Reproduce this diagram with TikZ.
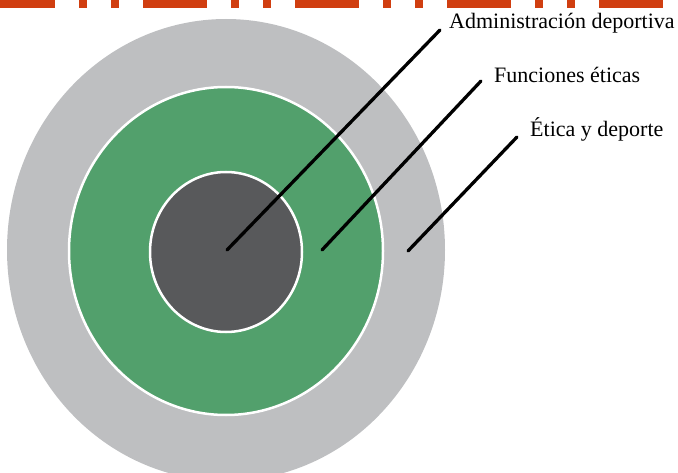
\documentclass[tikz,border=0pt]{standalone}
\usepackage{fontspec}
\setmainfont{Liberation Serif}
\usetikzlibrary{positioning}
\definecolor{ringgray}{RGB}{190,191,193}
\definecolor{ringgreen}{RGB}{82,160,108}
\definecolor{coregray}{RGB}{88,89,91}
\definecolor{bandorange}{RGB}{208,62,16}
\tikzset{%
  % Specifications for style of rings and labels:
        ring/.style = {draw=white, line width=2.5pt},
     pointer/.style = {draw=black, line width=3.3pt, line cap=round},
   labeltext/.style = {anchor=base west, inner sep=0pt, font=\fontsize{22}{24}\selectfont},
}
\begin{document}
\begin{tikzpicture}[x=1pt, y=-1pt]
  \useasboundingbox (0,0) rectangle (678,473);
  \clip (0,0) rectangle (678,473);

  % top band
  \draw[bandorange, line width=8pt,
        dash pattern=on 64pt off 24pt on 8pt off 24pt on 8pt off 24pt,
        dash phase=9pt] (0,4) -- (678,4);

  % rings
  \fill[ringgray] (226,250) ellipse [x radius=219, y radius=231];
  \filldraw[ring, fill=ringgreen] (226,251) ellipse [x radius=157, y radius=164];
  \filldraw[ring, fill=coregray] (226,252) ellipse [x radius=76, y radius=80];

  % labels
  \node (admin) [labeltext] at (449,29) {Administración deportiva};
  \node (func)  [labeltext] at (494,83) {Funciones éticas};
  \node (etica) [labeltext] at (530,137) {Ética y deporte};

  \coordinate (core)  at (227,250);
  \coordinate (green) at (322,250);
  \coordinate (outer) at (408,251);

  \draw[pointer] (core)  -- ([xshift=-9pt, yshift=-1pt]admin.base west);
  \draw[pointer] (green) -- ([xshift=-13pt, yshift=2pt]func.base west);
  \draw[pointer] (outer) -- ([xshift=-13pt]etica.base west);
\end{tikzpicture}
\end{document}
